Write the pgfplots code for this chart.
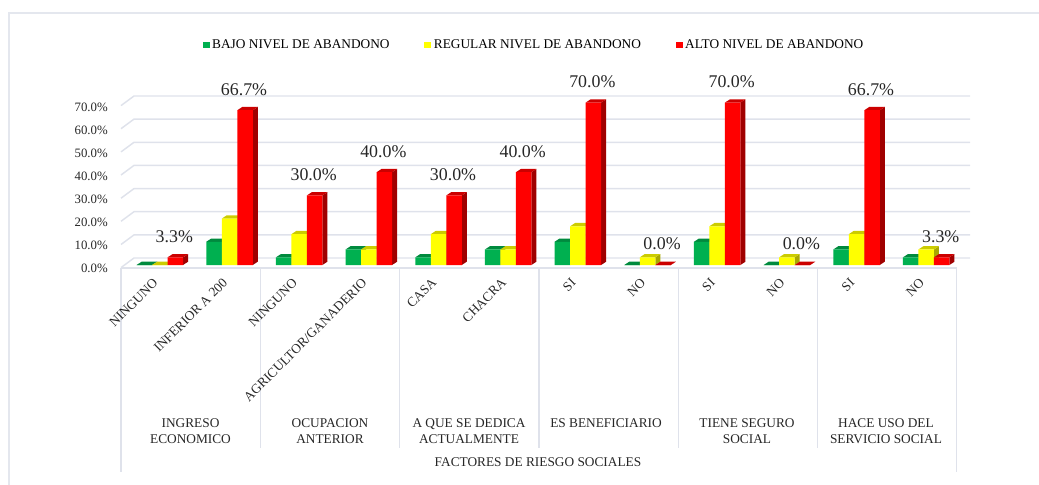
\documentclass[border=0pt]{standalone}
\usepackage{pgfplots}
\pgfplotsset{compat=1.18}
\usepackage{fontspec}
\setmainfont{Liberation Serif}
\definecolor{gridc}{HTML}{DFE2EB}
\definecolor{framec}{HTML}{E4E7EE}
\definecolor{txt}{HTML}{262626}
\definecolor{gF}{HTML}{00B050}\definecolor{gS}{HTML}{006E32}\definecolor{gT}{HTML}{008A3E}
\definecolor{yF}{HTML}{FFFF00}\definecolor{yS}{HTML}{A8A800}\definecolor{yT}{HTML}{CCCC00}
\definecolor{rF}{HTML}{FF0000}\definecolor{rS}{HTML}{A00000}\definecolor{rT}{HTML}{CC0000}
% k, value, centre offset in px, side colour, top colour
\newcommand\faces[5]{%
  \pgfmathsetmacro\xL{#1+#3/69.67-0.1112}%
  \pgfmathsetmacro\xR{#1+#3/69.67+0.1112}%
  \pgfmathsetmacro\xLb{\xL+0.0718}%
  \pgfmathsetmacro\xRb{\xR+0.0718}%
  \pgfmathsetmacro\vb{#2+1.42}%
  \addplot[fill=#4,draw=none,forget plot] coordinates {(\xR,0) (\xRb,1.42) (\xRb,\vb) (\xR,#2)} -- cycle;
  \addplot[fill=#5,draw=none,forget plot] coordinates {(\xL,#2) (\xLb,\vb) (\xRb,\vb) (\xR,#2)} -- cycle;
}
\newcommand\G[2]{\faces{#1}{#2}{-11.5}{gS}{gT}}
\newcommand\Y[2]{\faces{#1}{#2}{4}{yS}{yT}}
\newcommand\R[2]{\faces{#1}{#2}{19.5}{rS}{rT}}
\newcommand\fs[1]{\fontsize{#1}{12pt}\selectfont}
\begin{document}
\begin{tikzpicture}
\begin{scope}[x=0.75pt,y=-0.75pt]
\useasboundingbox (0,0) rectangle (1039,485);
% outer frame
\draw[framec,line width=1.1pt] (9,485) -- (9,13) -- (1039,13);
% back wall and floor
\foreach \yy in {96,119.1,142.3,165.4,188.6,211.7,234.9,258}{
  \draw[gridc,line width=1.1pt] (121,\yy+9.6) -- (134,\yy) -- (970,\yy);
}
% category frame
\draw[gridc,line width=1.1pt] (121,268) -- (956.5,268);
\foreach \xx in {260.3,399.6,539,678.3,817.7}{
  \draw[gridc,line width=1.1pt] (\xx,268) -- (\xx,447.5);
}
\draw[gridc,line width=1.1pt] (121,268) -- (121,472);
\draw[gridc,line width=1.1pt] (956.5,268) -- (956.5,472);
\end{scope}
\begin{axis}[
  at={(90.75pt,-200.25pt)},anchor=south west,
  scale only axis,width=636.75pt,height=128.25pt,
  xmin=-0.5,xmax=11.686,ymin=-0.862,ymax=72.84,
  clip=false,axis line style={draw=none},
  major tick length=0pt,
  tick style={draw=none},
  xtick={0,...,11},
  xticklabels={NINGUNO,INFERIOR A 200,NINGUNO,AGRICULTOR/GANADERIO,CASA,CHACRA,SI,NO,SI,NO,SI,NO},
  xticklabel style={rotate=45,anchor=north east,font=\fs{10},text=txt,inner sep=0pt,xshift=-7.3pt,yshift=-3.5pt},
  tick label style={text=txt},
  ytick={-0.86,9.05,18.97,28.88,38.8,48.71,58.62,68.54},
  yticklabels={0.0\%,10.0\%,20.0\%,30.0\%,40.0\%,50.0\%,60.0\%,70.0\%},
  yticklabel style={font=\fs{9.6},text=txt,inner sep=0pt,anchor=east,xshift=-9.75pt,yshift=-1.1pt},
  legend columns=3,
  legend style={draw=none,fill=none,at={(0.5,1.0)},anchor=south,yshift=32pt,xshift=-8.4pt,
    font=\fs{10},
    /tikz/every even column/.append style={column sep=24pt},
    inner sep=0pt},
  legend cell align=left,
  legend image code/.code={\fill[#1] (0pt,-2.6pt) rectangle (5.2pt,2.6pt);},
]
\G{0}{0}\G{1}{10}\G{2}{3.3}\G{3}{6.7}\G{4}{3.3}\G{5}{6.7}\G{6}{10}\G{7}{0}\G{8}{10}\G{9}{0}\G{10}{6.7}\G{11}{3.3}
\addplot[ybar,bar width=11.625pt,bar shift=-8.625pt,fill=gF,draw=none] coordinates {(0,0)(1,10)(2,3.3)(3,6.7)(4,3.3)(5,6.7)(6,10)(7,0)(8,10)(9,0)(10,6.7)(11,3.3)};
\addlegendentry{BAJO NIVEL DE ABANDONO}
\Y{0}{0}\Y{1}{20}\Y{2}{13.3}\Y{3}{6.7}\Y{4}{13.3}\Y{5}{6.7}\Y{6}{16.7}\Y{7}{3.3}\Y{8}{16.7}\Y{9}{3.3}\Y{10}{13.3}\Y{11}{6.7}
\addplot[ybar,bar width=11.625pt,bar shift=3pt,fill=yF,draw=none] coordinates {(0,0)(1,20)(2,13.3)(3,6.7)(4,13.3)(5,6.7)(6,16.7)(7,3.3)(8,16.7)(9,3.3)(10,13.3)(11,6.7)};
\addlegendentry{REGULAR NIVEL DE ABANDONO}
\R{0}{3.3}\R{1}{66.7}\R{2}{30}\R{3}{40}\R{4}{30}\R{5}{40}\R{6}{70}\R{7}{0}\R{8}{70}\R{9}{0}\R{10}{66.7}\R{11}{3.3}
\addplot[ybar,bar width=11.625pt,bar shift=14.625pt,fill=rF,draw=none,
  nodes near coords={\pgfmathprintnumber[fixed,fixed zerofill,precision=1,assume math mode=true]{\pgfplotspointmeta}\%},
  every node near coord/.style={anchor=center,yshift=15.75pt,xshift=13.875pt,font=\fs{13.4},text=txt,inner sep=0pt}]
  coordinates {(0,3.3)(1,66.7)(2,30)(3,40)(4,30)(5,40)(6,70)(7,0)(8,70)(9,0)(10,66.7)(11,3.3)};
\addlegendentry{ALTO NIVEL DE ABANDONO}
\end{axis}
\begin{scope}[x=0.75pt,y=-0.75pt,every node/.style={font=\fs{10},text=txt,align=center,inner sep=0pt}]
\node at (190.5,431) {INGRESO\\ECONOMICO};
\node at (330,431) {OCUPACION\\ANTERIOR};
\node at (469,431) {A QUE SE DEDICA\\ACTUALMENTE};
\node at (606,423) {ES BENEFICIARIO};
\node at (747,431) {TIENE SEGURO\\SOCIAL};
\node at (886,431) {HACE USO DEL\\SERVICIO SOCIAL};
\node at (538,462) {FACTORES DE RIESGO SOCIALES};
\end{scope}
\end{tikzpicture}
\end{document}
